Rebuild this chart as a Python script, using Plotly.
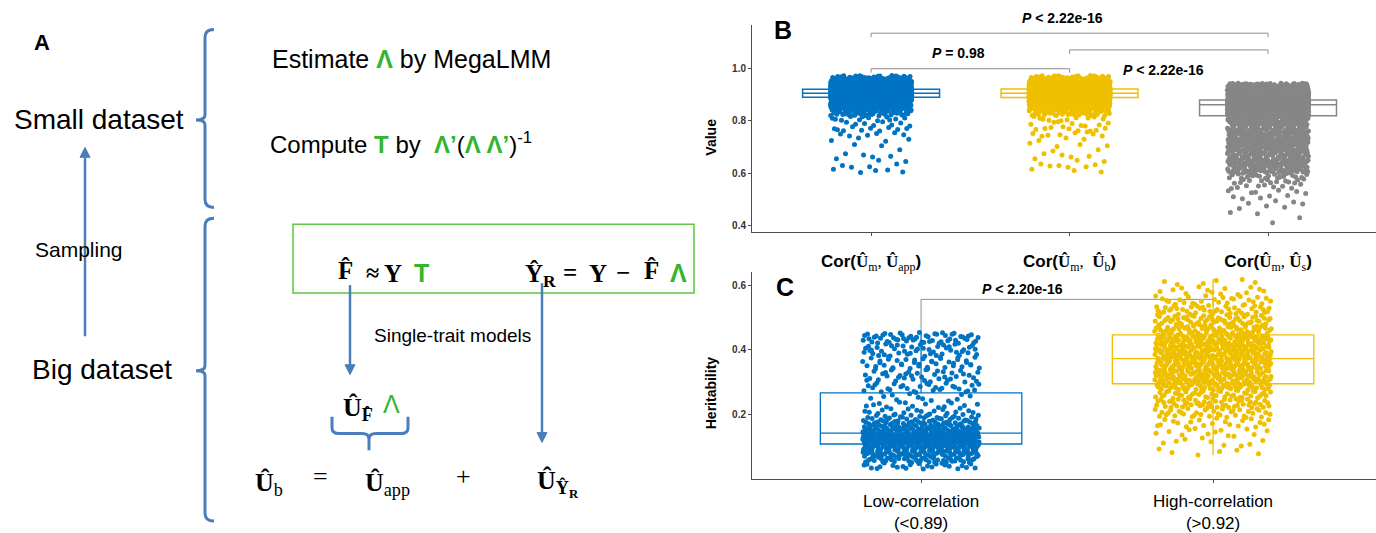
import plotly.graph_objects as go

# ------------------------------------------------------------------ data
# Panel B : correlation values (read from picture as bin counts)
b_positions = [1, 2, 3]
b_tick_vals = [0.4, 0.6, 0.8, 1.0]
b_q1 = [0.891, 0.890, 0.820]
b_median = [0.906, 0.906, 0.862]
b_q3 = [0.921, 0.922, 0.880]
b_lowerfence = [0.846, 0.845, 0.730]
b_upperfence = [0.972, 0.972, 0.945]

b_app_edges = [0.60, 0.62, 0.64, 0.66, 0.68, 0.70, 0.72, 0.74, 0.76, 0.78, 0.80, 0.82,
               0.84, 0.86, 0.88, 0.891, 0.906, 0.921, 0.94, 0.96, 0.975]
b_app_counts = [5, 4, 3, 4, 1, 2, 4, 6, 10, 8, 12, 40, 90, 160, 151, 500, 500, 300, 170, 30]

b_b_edges = [0.60, 0.62, 0.64, 0.66, 0.68, 0.70, 0.72, 0.74, 0.76, 0.78, 0.80, 0.82,
             0.84, 0.86, 0.88, 0.890, 0.906, 0.922, 0.94, 0.96, 0.975]
b_b_counts = [3, 6, 3, 4, 2, 4, 3, 8, 9, 8, 10, 36, 90, 160, 154, 500, 500, 300, 170, 30]

b_s_edges = [0.40, 0.42, 0.44, 0.46, 0.48, 0.50, 0.52, 0.54, 0.56, 0.58, 0.60,
             0.62, 0.64, 0.66, 0.68, 0.70, 0.72, 0.74, 0.76, 0.78, 0.80, 0.82,
             0.862, 0.88, 0.90, 0.92, 0.945]
b_s_counts = [1, 1, 2, 3, 4, 5, 6, 9, 13, 20,
              44, 46, 48, 50, 50, 51, 51, 51, 52, 52, 51,
              600, 600, 300, 200, 100]

b_pvals = ["<b><i>P</i> &lt; 2.22e-16</b>", "<b><i>P</i> &lt; 2.22e-16</b>", "<b><i>P</i> = 0.98</b>"]
b_pairs = [(1, 3), (2, 3), (1, 2)]
b_pair_y = [1.136, 1.072, 1.000]

# Panel C : heritability
c_positions = [1, 2]
c_tick_vals = [0.2, 0.4, 0.6]
c_q1 = [0.108, 0.295]
c_median = [0.142, 0.373]
c_q3 = [0.267, 0.447]
c_lowerfence = [0.034, 0.073]
c_upperfence = [0.455, 0.620]

c_low_edges = [0.03, 0.05, 0.07, 0.09, 0.108, 0.125, 0.142, 0.16, 0.18, 0.20, 0.22,
               0.24, 0.267, 0.30, 0.34, 0.38, 0.42, 0.455]
c_low_counts = [24, 46, 62, 78, 106, 104, 79, 54, 34, 18, 13, 12, 30, 38, 42, 46, 54]

c_high_edges = [0.07, 0.10, 0.13, 0.16, 0.19, 0.22, 0.25, 0.275, 0.295, 0.335, 0.373,
                0.41, 0.447, 0.48, 0.51, 0.54, 0.57, 0.60, 0.625]
c_high_counts = [6, 9, 13, 20, 36, 52, 44, 47, 114, 113, 114, 113, 81, 58, 42, 26, 14, 6]

c_pval = "<b><i>P</i> &lt; 2.20e-16</b>"
c_pair_y = 0.557

# ------------------------------------------------------------------ style
BLUE = "#0073C2"
YELLOW = "#EFC000"
GREY = "#868686"
DIAG = "#4A7EBB"
GREEN = "#33B52E"
GREEN_BOX = "#5CC544"
SANS = "Liberation Sans, Arial, sans-serif"
SERIF = "Liberation Serif, DejaVu Serif, serif"
W, H = 1376, 533


def vdc(n, base):
    v, denom = 0.0, 1.0
    while n:
        n, r = divmod(n, base)
        denom *= base
        v += r / denom
    return v


def expand(edges, counts):
    """spread each bin's count over the bin (low-discrepancy order)"""
    vals = []
    for lo, hi, n in zip(edges[:-1], edges[1:], counts):
        for k in range(n):
            vals.append(lo + (hi - lo) * vdc(k + 1, 2))
    return vals


def jitter_x(center, n, width):
    return [center + (vdc(i + 7, 3) - 0.5) * width for i in range(n)]


def U(sub, subbold=False):
    s = f"<b>{sub}</b>" if subbold else sub
    return f"<b>Û</b><sub>{s}</sub>"


fig = go.Figure()

# ---------------- Panel B
b_colors = [BLUE, YELLOW, GREY]
for i, pos in enumerate(b_positions):
    fig.add_trace(go.Box(
        x=[pos], q1=[b_q1[i]], median=[b_median[i]], q3=[b_q3[i]],
        lowerfence=[b_lowerfence[i]], upperfence=[b_upperfence[i]],
        width=0.69, whiskerwidth=0, boxpoints=False,
        line=dict(color=b_colors[i], width=1.5), fillcolor="rgba(255,255,255,0.6)",
        xaxis="x", yaxis="y", showlegend=False, hoverinfo="skip"))
for pos, col, (ed, ct) in zip(b_positions, b_colors,
                              [(b_app_edges, b_app_counts), (b_b_edges, b_b_counts),
                               (b_s_edges, b_s_counts)]):
    ys = expand(ed, ct)
    fig.add_trace(go.Scatter(
        x=jitter_x(pos, len(ys), 0.41), y=ys, mode="markers",
        marker=dict(color=col, size=5, line=dict(width=0)),
        xaxis="x", yaxis="y", showlegend=False, hoverinfo="skip"))

# ---------------- Panel C
c_colors = [BLUE, YELLOW]
for i, pos in enumerate(c_positions):
    fig.add_trace(go.Box(
        x=[pos], q1=[c_q1[i]], median=[c_median[i]], q3=[c_q3[i]],
        lowerfence=[c_lowerfence[i]], upperfence=[c_upperfence[i]],
        width=0.69, whiskerwidth=0, boxpoints=False,
        line=dict(color=c_colors[i], width=1.3), fillcolor="rgba(255,255,255,0)",
        xaxis="x2", yaxis="y2", showlegend=False, hoverinfo="skip"))
for pos, col, (ed, ct) in zip(c_positions, c_colors,
                              [(c_low_edges, c_low_counts), (c_high_edges, c_high_counts)]):
    ys = expand(ed, ct)
    fig.add_trace(go.Scatter(
        x=jitter_x(pos, len(ys), 0.40), y=ys, mode="markers",
        marker=dict(color=col, size=5, line=dict(width=0)),
        xaxis="x2", yaxis="y2", showlegend=False, hoverinfo="skip"))

# invisible pixel-space axis for the diagram / free labels
fig.add_trace(go.Scatter(x=[0], y=[0], mode="markers", marker=dict(opacity=0),
                         xaxis="x3", yaxis="y3", showlegend=False, hoverinfo="skip"))

shapes = []
annotations = []

# significance brackets in B
for (a, b), yv in zip(b_pairs, b_pair_y):
    shapes.append(dict(type="path", xref="x", yref="y", layer="below",
                       path=f"M {a},{yv-0.015} L {a},{yv} L {b},{yv} L {b},{yv-0.015}",
                       line=dict(color="#8f8f8f", width=1)))
# bracket in C
shapes.append(dict(type="path", xref="x2", yref="y2", layer="below",
                   path=f"M 1,0.455 L 1,{c_pair_y} L 2,{c_pair_y} L 2,{c_pair_y-0.02}",
                   line=dict(color="#8f8f8f", width=1)))

P = dict(xref="x3", yref="y3", showarrow=False)
annotations += [
    dict(x=1062, y=18, text=b_pvals[0], font=dict(family=SANS, size=14, color="black"), **P),
    dict(x=1163, y=71, text=b_pvals[1], font=dict(family=SANS, size=14, color="black"), **P),
    dict(x=958, y=54, text=b_pvals[2], font=dict(family=SANS, size=14, color="black"), **P),
    dict(x=1022, y=294, text=c_pval, font=dict(family=SANS, size=14, color="black"), **P),
    dict(x=783, y=31, text="<b>B</b>", font=dict(family=SANS, size=25, color="black"), **P),
    dict(x=785, y=292, text="<b>C</b>", font=dict(family=SANS, size=25, color="black"), **P),
    dict(x=711, y=140, text="<b>Value</b>", textangle=-90,
         font=dict(family=SANS, size=14, color="black"), **P),
    dict(x=711, y=400, text="<b>Heritability</b>", textangle=-90,
         font=dict(family=SANS, size=14, color="black"), **P),
]

# ---------------- Panel A (diagram, pixel space)
def arrow(x, y0, y1):
    """vertical arrow from y0 to y1 (head at y1)"""
    d = 1 if y1 > y0 else -1
    base = y1 - d * 10
    return [
        dict(type="line", xref="x3", yref="y3", x0=x, x1=x, y0=y0, y1=base,
             line=dict(color=DIAG, width=2.5)),
        dict(type="path", xref="x3", yref="y3",
             path=f"M {x-5},{base} L {x+5},{base} L {x},{y1} Z",
             fillcolor=DIAG, line=dict(color=DIAG, width=1)),
    ]


shapes += [
    dict(type="path", xref="x3", yref="y3",
         path="M 214,30 Q 205,30 205,38 L 205,117 Q 205,122 196,122 Q 205,122 205,127 "
              "L 205,203 Q 205,211 214,211",
         line=dict(color=DIAG, width=3)),
    dict(type="path", xref="x3", yref="y3",
         path="M 214,222 Q 205,222 205,230 L 205,372 Q 205,377 196,377 Q 205,377 205,382 "
              "L 205,522 Q 205,530 214,530",
         line=dict(color=DIAG, width=3)),
    dict(type="path", xref="x3", yref="y3",
         path="M 332,424 L 332,435 Q 332,441 339,441 L 362,441 Q 369,441 369,447 L 369,458 "
              "M 369,447 Q 369,441 376,441 L 401,441 Q 408,441 408,435 L 408,424",
         line=dict(color=DIAG, width=3)),
    dict(type="rect", xref="x3", yref="y3", x0=293, x1=694, y0=228, y1=298,
         line=dict(color=GREEN_BOX, width=1.5)),
]
shapes += arrow(85, 342, 150)
shapes += arrow(350, 290, 381)
shapes += arrow(542, 288, 450)

g = lambda s: f"<span style='color:{GREEN}'><b>{s}</b></span>"
blk = dict(color="black")


def serif(size):
    return dict(family=SERIF, size=size, color="black")


def green_sans(size):
    return dict(family=SANS, size=size, color=GREEN, weight="bold")


annotations += [
    dict(x=42, y=43, text="<b>A</b>", font=dict(family=SANS, size=22, **blk), **P),
    dict(x=12, y=122, xanchor="left", text="Small dataset",
         font=dict(family=SANS, size=28, **blk), **P),
    dict(x=33, y=254, xanchor="left", text="Sampling",
         font=dict(family=SANS, size=21, **blk), **P),
    dict(x=30, y=376, xanchor="left", text="Big dataset",
         font=dict(family=SANS, size=28, **blk), **P),
    dict(x=270, y=60, xanchor="left", text=f"Estimate {g('Λ')} by MegaLMM",
         font=dict(family=SANS, size=25, **blk), **P),
    dict(x=268, y=145, xanchor="left",
         text=f"Compute {g('T')} by  {g('Λ’')}({g('Λ Λ’')})<sup>-1</sup>",
         font=dict(family=SANS, size=24, **blk), **P),
    # box formulae
    dict(x=345, y=275, text="<b>F\u0302</b>", font=serif(25), **P),
    dict(x=372, y=278, text="<b>≈</b>", font=serif(24), **P),
    dict(x=393, y=278, text="<b>Y</b>", font=serif(25), **P),
    dict(x=421, y=278, text="T", font=green_sans(25), **P),
    dict(x=523, y=280, xanchor="left", text="<b>Ŷ<sub>R</sub></b>", font=serif(25), **P),
    dict(x=570, y=277, text="<b>=</b>", font=serif(25), **P),
    dict(x=598, y=278, text="<b>Y</b>", font=serif(25), **P),
    dict(x=623, y=277, text="<b>−</b>", font=serif(25), **P),
    dict(x=651, y=275, text="<b>F\u0302</b>", font=serif(25), **P),
    dict(x=678, y=278, text="Λ", font=green_sans(25), **P),
    dict(x=372, y=341, xanchor="left", text="Single-trait models",
         font=dict(family=SANS, size=19, **blk), **P),
    dict(x=341, y=416, xanchor="left", text="<b>Û</b><sub><b>F\u0302</b></sub>",
         font=serif(26), **P),
    dict(x=391, y=411, text="Λ", font=dict(family=SANS, size=25, color=GREEN), **P),
    dict(x=253, y=492, xanchor="left", text=U("b"), font=serif(26), **P),
    dict(x=320, y=485, text="=", font=serif(26), **P),
    dict(x=363, y=492, xanchor="left", text=U("app"), font=serif(26), **P),
    dict(x=463, y=485, text="+", font=serif(26), **P),
    dict(x=535, y=492, xanchor="left", text=U("Ŷ<sub>R</sub>", True), font=serif(26), **P),
]

ser = lambda s: f"<span style='font-family:{SERIF}'>{s}</span>"
UT = lambda sub: f"{ser('<b>Û</b>')}<sub>{ser(sub)}</sub>"
b_tick_text = [
    f"<b>Cor(</b>{UT('m')}{ser(', ')}{UT('app')}<b>)</b>",
    f"<b>Cor(</b>{UT('m')}{ser(',  ')}{UT('b')}<b>)</b>",
    f"<b>Cor(</b>{UT('m')}{ser(', ')}{UT('s')}<b>)</b>",
]
c_tick_text = ["Low-correlation<br>(&lt;0.89)", "High-correlation<br>(&gt;0.92)"]

axis_common = dict(showline=True, linecolor="#4d4d4d", linewidth=1, ticks="outside",
                   ticklen=3, tickcolor="#4d4d4d", showgrid=False, zeroline=False)

fig.update_layout(
    width=W, height=H, margin=dict(l=0, r=0, t=0, b=0),
    paper_bgcolor="white", plot_bgcolor="rgba(0,0,0,0)",
    showlegend=False, shapes=shapes, annotations=annotations,
    xaxis=dict(domain=[752 / W, 1], range=[0.4, 3.544], anchor="y",
               tickvals=b_positions, ticktext=b_tick_text, ticklabelstandoff=11,
               tickfont=dict(family=SANS, size=17, color="black"), **axis_common),
    yaxis=dict(domain=[(H - 236) / H, (H - 25) / H], range=[0.375, 1.169], anchor="x",
               tickvals=b_tick_vals, tickformat=".1f",
               tickfont=dict(family=SANS, size=10, color="#333333", weight="bold"),
               **axis_common),
    xaxis2=dict(domain=[752 / W, 1], range=[0.421, 2.558], anchor="y2",
                tickvals=c_positions, ticktext=c_tick_text, ticklabelstandoff=4,
                tickfont=dict(family=SANS, size=17, color="black"), **axis_common),
    yaxis2=dict(domain=[(H - 487) / H, (H - 277) / H], range=[0, 0.641], anchor="x2",
                tickvals=c_tick_vals, tickformat=".1f",
                tickfont=dict(family=SANS, size=10, color="#333333", weight="bold"),
                **axis_common),
    xaxis3=dict(domain=[0, 1], range=[0, W], visible=False, anchor="y3", fixedrange=True),
    yaxis3=dict(domain=[0, 1], range=[H, 0], visible=False, anchor="x3", fixedrange=True),
)

fig.write_html("out.html")
